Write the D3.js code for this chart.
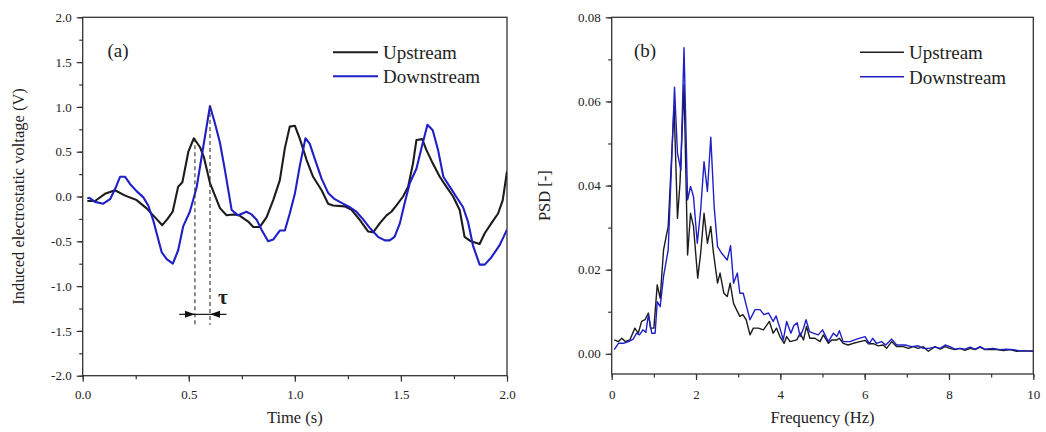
<!DOCTYPE html>
<html>
<head>
<meta charset="utf-8">
<script src="https://cdn.jsdelivr.net/npm/d3@7"></script>
<style>
  html, body { margin: 0; padding: 0; background: #fff; }
  svg { display: block; }
  text { font-family: "Liberation Serif", "Times New Roman", serif; fill: #222; }
</style>
</head>
<body>
<svg id="chart" width="1046" height="432"></svg>
<script>
// ---- (a) time series: induced electrostatic voltage ----
const upTime = [0.022,0.058,0.105,0.152,0.2,0.254,0.30,0.34,0.375,0.40,0.424,0.45,0.47,0.498,0.524,0.553,0.571,0.6,0.647,0.678,0.71,0.738,0.78,0.804,0.835,0.867,0.898,0.929,0.953,0.976,1.0,1.024,1.055,1.086,1.126,1.157,1.18,1.235,1.267,1.306,1.345,1.369,1.4,1.432,1.455,1.479,1.51,1.534,1.557,1.573,1.60,1.62,1.65,1.683,1.714,1.746,1.777,1.8,1.83,1.871,1.895,1.926,1.958,1.98,2.0];
const upVolt = [-0.05,-0.05,0.03,0.07,0.01,-0.04,-0.13,-0.23,-0.32,-0.25,-0.17,0.11,0.16,0.5,0.65,0.55,0.44,0.15,-0.13,-0.21,-0.2,-0.21,-0.28,-0.34,-0.34,-0.23,-0.04,0.18,0.54,0.78,0.79,0.64,0.41,0.22,0.07,-0.08,-0.1,-0.11,-0.15,-0.26,-0.39,-0.4,-0.3,-0.21,-0.17,-0.1,0.0,0.11,0.37,0.63,0.64,0.52,0.37,0.22,0.11,0.0,-0.15,-0.45,-0.5,-0.53,-0.41,-0.3,-0.19,-0.04,0.28];

const downTime = [0.022,0.035,0.058,0.097,0.129,0.152,0.176,0.2,0.223,0.254,0.286,0.309,0.333,0.372,0.396,0.425,0.45,0.474,0.505,0.537,0.568,0.6,0.623,0.647,0.67,0.702,0.733,0.772,0.796,0.82,0.843,0.874,0.898,0.929,0.953,0.976,1.0,1.024,1.05,1.07,1.094,1.126,1.157,1.188,1.227,1.26,1.29,1.32,1.353,1.392,1.424,1.447,1.47,1.495,1.518,1.542,1.573,1.597,1.625,1.65,1.675,1.7,1.73,1.76,1.793,1.816,1.84,1.871,1.895,1.926,1.966,2.0];
const downVolt = [-0.015,-0.02,-0.06,-0.08,-0.03,0.08,0.22,0.22,0.14,0.06,-0.01,-0.1,-0.27,-0.62,-0.7,-0.75,-0.6,-0.33,-0.17,0.1,0.55,1.01,0.82,0.6,0.3,-0.15,-0.21,-0.17,-0.2,-0.26,-0.37,-0.5,-0.48,-0.38,-0.38,-0.19,0.03,0.35,0.65,0.59,0.42,0.2,0.04,-0.03,-0.08,-0.12,-0.17,-0.25,-0.35,-0.45,-0.49,-0.49,-0.45,-0.3,-0.07,0.15,0.31,0.54,0.8,0.74,0.52,0.22,0.11,0.0,-0.12,-0.28,-0.55,-0.76,-0.76,-0.68,-0.54,-0.37];

// delay marker between the first pair of peaks
const tauTimes = [0.529, 0.6];
const tauPeaks = [0.65, 1.01];
const tauArrowSpan = [0.455, 0.678];
const tauLevel = -1.315;
const tauDashBottom = -1.43;
const tauLabelAt = [0.66, -1.2];

const timeTicks = [0, 0.5, 1.0, 1.5, 2.0];
const voltTicks = [-2.0, -1.5, -1.0, -0.5, 0.0, 0.5, 1.0, 1.5, 2.0];

// ---- (b) power spectral density ----
const upFreq = [0.06,0.16,0.24,0.32,0.43,0.55,0.63,0.71,0.79,0.87,0.92,1.0,1.08,1.15,1.23,1.34,1.48,1.56,1.62,1.715,1.80,1.87,1.94,2.04,2.11,2.19,2.27,2.35,2.41,2.51,2.57,2.66,2.74,2.81,2.89,2.96,3.04,3.11,3.19,3.28,3.36,3.48,3.60,3.74,3.83,3.91,3.99,4.09,4.15,4.23,4.39,4.47,4.55,4.62,4.70,4.82,4.94,5.02,5.14,5.22,5.34,5.40,5.49,5.61,5.73,5.89,6.01,6.09,6.21,6.32,6.44,6.52,6.64,6.76,6.92,7.04,7.15,7.27,7.39,7.51,7.67,7.79,7.91,8.02,8.14,8.26,8.38,8.50,8.62,8.74,8.85,8.97,9.13,9.29,9.45,9.60,9.76,10.0];
const upPsd = [0.0033,0.0029,0.0037,0.0029,0.0033,0.0061,0.0049,0.0077,0.0081,0.0097,0.0061,0.0061,0.0164,0.0132,0.0247,0.0303,0.0588,0.0322,0.0406,0.0639,0.0235,0.0334,0.0303,0.018,0.0239,0.0334,0.0263,0.0303,0.0243,0.0168,0.0192,0.0144,0.0136,0.0168,0.012,0.0105,0.0089,0.0093,0.0081,0.0045,0.0061,0.0061,0.0057,0.0077,0.0049,0.0061,0.0041,0.0025,0.0041,0.0029,0.0033,0.0049,0.0033,0.0065,0.0037,0.0037,0.0029,0.0045,0.0025,0.0033,0.0033,0.0037,0.0025,0.0021,0.0025,0.0029,0.0032,0.0024,0.0024,0.0019,0.0021,0.0013,0.0029,0.0017,0.0017,0.0013,0.0017,0.0013,0.0017,0.0006,0.0017,0.0011,0.0017,0.0013,0.001,0.0013,0.0008,0.0013,0.001,0.0016,0.001,0.0011,0.001,0.0008,0.001,0.0006,0.0007,0.0006];

const downFreq = [0.06,0.16,0.28,0.40,0.51,0.59,0.66,0.74,0.81,0.87,0.95,1.03,1.08,1.15,1.23,1.34,1.49,1.56,1.64,1.715,1.80,1.87,1.94,2.03,2.11,2.19,2.27,2.35,2.43,2.51,2.61,2.74,2.82,2.89,2.98,3.04,3.12,3.20,3.28,3.40,3.52,3.61,3.72,3.83,3.90,3.99,4.07,4.15,4.25,4.32,4.40,4.47,4.55,4.61,4.69,4.78,4.90,5.0,5.14,5.26,5.34,5.40,5.49,5.65,5.81,6.01,6.11,6.19,6.28,6.40,6.50,6.64,6.76,6.96,7.11,7.27,7.39,7.51,7.67,7.79,7.91,8.02,8.14,8.26,8.38,8.50,8.62,8.74,8.85,9.05,9.21,9.37,9.53,9.68,10.0];
const downPsd = [0.001,0.0025,0.0025,0.0029,0.0035,0.0049,0.0045,0.0057,0.0051,0.0093,0.0049,0.0049,0.0124,0.0112,0.0184,0.0247,0.0634,0.0477,0.0437,0.0728,0.0366,0.0398,0.0374,0.0263,0.0342,0.0457,0.0386,0.0515,0.035,0.0255,0.0239,0.0223,0.0257,0.0168,0.0192,0.0144,0.0144,0.0112,0.0081,0.0105,0.0105,0.0093,0.0097,0.0077,0.009,0.0061,0.0033,0.0077,0.0049,0.0067,0.0074,0.0041,0.0061,0.0081,0.0053,0.0049,0.0045,0.0057,0.0029,0.0049,0.0041,0.0055,0.0029,0.0029,0.0035,0.0041,0.0024,0.0037,0.0025,0.0029,0.0021,0.0035,0.0021,0.0021,0.0017,0.0019,0.0013,0.0013,0.0016,0.0013,0.0021,0.0017,0.0011,0.0013,0.0011,0.0016,0.0011,0.0017,0.0011,0.0013,0.001,0.0011,0.001,0.0007,0.0007];

const freqTicks = [0, 2, 4, 6, 8, 10];
const psdTicks = [0.00, 0.02, 0.04, 0.06, 0.08];

const seriesNames = ["Upstream", "Downstream"];
const seriesColors = ["#1c1c1c", "#1f1fc8"];

const svg = d3.select("#chart");
const frameColor = "#333";

function panel(opts) {
  const g = svg.append("g");
  const x = d3.scaleLinear().domain(opts.xDomain).range([opts.left, opts.right]);
  const y = d3.scaleLinear().domain(opts.yDomain).range([opts.bottom, opts.top]);

  // minor ticks
  const xMinor = d3.range(opts.xDomain[0], opts.xDomain[1] + 1e-9, opts.xMinorStep);
  const yMinor = d3.range(opts.yMinorStart, opts.yDomain[1] + 1e-9, opts.yMinorStep);
  g.append("g").attr("transform", `translate(0,${opts.bottom})`)
    .call(d3.axisBottom(x).tickValues(xMinor).tickSize(3.5).tickFormat(""))
    .call(a => a.select(".domain").remove())
    .call(a => a.selectAll("line").attr("stroke", frameColor).attr("stroke-width", 1.2));
  g.append("g").attr("transform", `translate(${opts.left},0)`)
    .call(d3.axisLeft(y).tickValues(yMinor).tickSize(3.5).tickFormat(""))
    .call(a => a.select(".domain").remove())
    .call(a => a.selectAll("line").attr("stroke", frameColor).attr("stroke-width", 1.2));

  // major ticks + labels
  const xa = g.append("g").attr("transform", `translate(0,${opts.bottom})`)
    .call(d3.axisBottom(x).tickValues(opts.xTicks).tickSize(6).tickPadding(opts.xPad).tickFormat(opts.xFmt));
  const ya = g.append("g").attr("transform", `translate(${opts.left},0)`)
    .call(d3.axisLeft(y).tickValues(opts.yTicks).tickSize(6).tickPadding(5).tickFormat(opts.yFmt));
  [xa, ya].forEach(a => {
    a.select(".domain").remove();
    a.selectAll("line").attr("stroke", frameColor).attr("stroke-width", 1.2);
    a.selectAll("text").attr("font-family", "Liberation Serif, serif").attr("font-size", 13).attr("fill", "#333");
  });

  // frame
  g.append("rect")
    .attr("x", opts.left).attr("y", opts.top)
    .attr("width", opts.right - opts.left).attr("height", opts.bottom - opts.top)
    .attr("fill", "none").attr("stroke", frameColor).attr("stroke-width", 1.3);

  // series
  const clipId = "clip" + opts.key;
  svg.append("clipPath").attr("id", clipId).append("rect")
    .attr("x", opts.left).attr("y", opts.top)
    .attr("width", opts.right - opts.left).attr("height", opts.bottom - opts.top);
  const line = d3.line().x(d => x(d[0])).y(d => y(d[1]));
  opts.series.forEach((s, i) => {
    g.append("path")
      .datum(d3.zip(s.xs, s.ys))
      .attr("clip-path", `url(#${clipId})`)
      .attr("d", line)
      .attr("fill", "none")
      .attr("stroke", seriesColors[i])
      .attr("stroke-width", opts.lineWidth)
      .attr("stroke-linejoin", "round");
  });

  // legend
  seriesNames.forEach((name, i) => {
    const ly = opts.legendY + i * opts.legendGap;
    g.append("line")
      .attr("x1", opts.legendX).attr("x2", opts.legendX + opts.legendLen)
      .attr("y1", ly).attr("y2", ly)
      .attr("stroke", seriesColors[i]).attr("stroke-width", opts.lineWidth);
    g.append("text")
      .attr("x", opts.legendX + opts.legendLen + 5).attr("y", ly + 7)
      .attr("font-size", 19).text(name);
  });

  // panel tag
  g.append("text").attr("x", opts.tagX).attr("y", 57).attr("font-size", 19).text(opts.tag);

  // axis titles
  g.append("text")
    .attr("x", (opts.left + opts.right) / 2).attr("y", 423)
    .attr("text-anchor", "middle").attr("font-size", 16.5).text(opts.xTitle);
  g.append("text")
    .attr("transform", `translate(${opts.yTitleX},${(opts.top + opts.bottom) / 2}) rotate(-90)`)
    .attr("text-anchor", "middle").attr("font-size", 16.5).text(opts.yTitle);

  return { g, x, y };
}

const fmt1 = d => d3.format(".1f")(d).replace("\u2212", "-");

const pa = panel({
  key: "a", tag: "(a)", tagX: 107.5,
  left: 82.7, right: 507, top: 17.3, bottom: 375.7,
  xDomain: [0, 2], yDomain: [-2, 2],
  xTicks: timeTicks, yTicks: voltTicks,
  xMinorStep: 0.25, yMinorStart: -2, yMinorStep: 0.25,
  xFmt: fmt1, yFmt: fmt1, xPad: 8,
  series: [{ xs: upTime, ys: upVolt }, { xs: downTime, ys: downVolt }],
  lineWidth: 2.1,
  legendX: 333, legendLen: 45, legendY: 52.3, legendGap: 24,
  xTitle: "Time (s)", yTitle: "Induced electrostatic voltage (V)", yTitleX: 24
});

const pb = panel({
  key: "b", tag: "(b)", tagX: 634,
  left: 611.7, right: 1033.3, top: 17.3, bottom: 374,
  xDomain: [0, 10], yDomain: [-0.0048, 0.08],
  xTicks: freqTicks, yTicks: psdTicks,
  xMinorStep: 1, yMinorStart: 0, yMinorStep: 0.01,
  xFmt: d3.format("d"), yFmt: d3.format(".2f"), xPad: 10,
  series: [{ xs: upFreq, ys: upPsd }, { xs: downFreq, ys: downPsd }],
  lineWidth: 1.4,
  legendX: 860, legendLen: 44, legendY: 52.3, legendGap: 24.5,
  xTitle: "Frequency (Hz)", yTitle: "PSD [-]", yTitleX: 550
});

// delay marker τ on panel (a)
(function () {
  const { g, x, y } = pa;
  tauTimes.forEach((t, i) => {
    g.append("line")
      .attr("x1", x(t)).attr("x2", x(t))
      .attr("y1", y(tauPeaks[i])).attr("y2", y(tauDashBottom))
      .attr("stroke", "#333").attr("stroke-width", 1.1)
      .attr("stroke-dasharray", "4,3");
  });
  g.append("line")
    .attr("x1", x(tauArrowSpan[0])).attr("x2", x(tauArrowSpan[1]))
    .attr("y1", y(tauLevel)).attr("y2", y(tauLevel))
    .attr("stroke", "#222").attr("stroke-width", 1.2);
  const yy = y(tauLevel);
  const a0 = x(tauTimes[0]), a1 = x(tauTimes[1]);
  g.append("path").attr("d", `M${a0},${yy} L${a0 - 10},${yy - 3.5} L${a0 - 10},${yy + 3.5} Z`).attr("fill", "#111");
  g.append("path").attr("d", `M${a1},${yy} L${a1 + 10},${yy - 3.5} L${a1 + 10},${yy + 3.5} Z`).attr("fill", "#111");
  g.append("text")
    .attr("x", x(tauLabelAt[0])).attr("y", y(tauLabelAt[1]))
    .attr("text-anchor", "middle").attr("font-size", 21)
    .attr("font-weight", "bold").attr("fill", "#111").text("τ");
})();
</script>
</body>
</html>
